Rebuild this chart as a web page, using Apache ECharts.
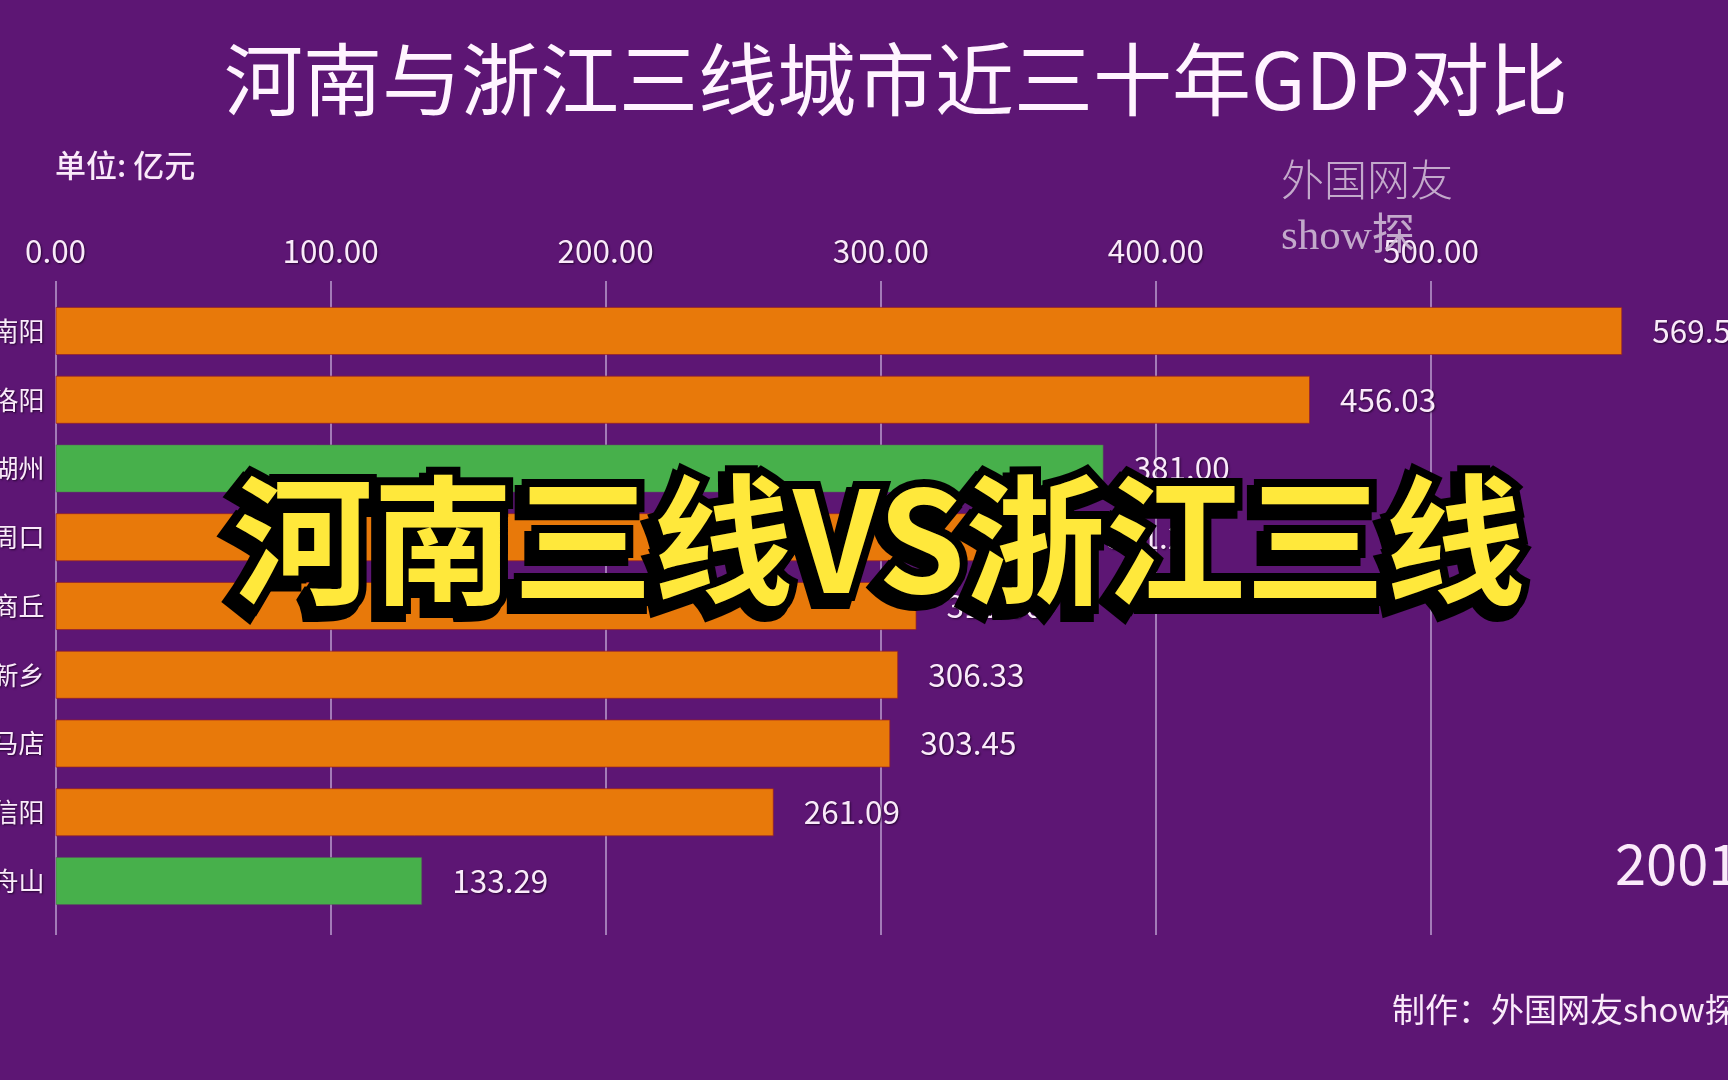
<!DOCTYPE html>
<html>
<head>
<meta charset="utf-8">
<script src="https://cdn.jsdelivr.net/npm/echarts@6/dist/echarts.min.js"></script>
<style>
html,body{margin:0;padding:0;background:#5D1674;}
#main{width:1728px;height:1080px;}
</style>
</head>
<body>
<div id="main"></div>
<script>
// ---- data ----
const cities = ['南阳', '洛阳', '湖州', '周口', '商丘', '新乡', '驻马店', '信阳', '舟山'];
const gdp = [569.52, 456.03, 381.00, 371.20, 313.00, 306.33, 303.45, 261.09, 133.29];
const provinces = ['河南', '河南', '浙江', '河南', '河南', '河南', '河南', '河南', '浙江'];
const xTicks = [0, 100, 200, 300, 400, 500];
const year = '2001';
const titleText = '河南与浙江三线城市近三十年GDP对比';
const unitText = '单位: 亿元';
const footerText = '制作：外国网友show探';
const overlayText = '河南三线VS浙江三线';

// ---- style ----
const colorMap = { '河南': '#E8790A', '浙江': '#47B04B' };
const borderMap = { '河南': 'rgba(150,30,40,0.7)', '浙江': 'rgba(90,90,90,0.5)' };
const txt = '#FAEAFA';
const FF = '"Noto Sans CJK SC", "Noto Sans", sans-serif';
const tShadow = { textShadowColor: 'rgba(30,0,40,0.85)', textShadowBlur: 2, textShadowOffsetX: 1, textShadowOffsetY: 1 };

const maxV = Math.max.apply(null, gdp);
const interval = xTicks[1] - xTicks[0];
const L = 55.5, R = 1728 - (55.5 + maxV * 2.751);

const chart = echarts.init(document.getElementById('main'));
const overlayFont = 'bold 140px ' + FF;

chart.setOption({
  backgroundColor: '#5D1674',
  animation: false,
  grid: [
    { left: L, right: R, top: 296.6, bottom: 164.6, containLabel: false, outerBoundsMode: 'none' },
    { left: L, right: R, top: 281, bottom: 145, containLabel: false, outerBoundsMode: 'none' }
  ],
  xAxis: [
    { type: 'value', gridIndex: 0, min: 0, max: maxV, show: false },
    {
      type: 'value', gridIndex: 1, position: 'top', min: xTicks[0], max: maxV, interval: interval,
      axisLine: { show: false }, axisTick: { show: false },
      axisLabel: {
        showMaxLabel: false, margin: 14, color: txt, fontSize: 31.5, fontFamily: FF,
        formatter: v => v.toFixed(2), ...tShadow
      },
      splitLine: { show: true, showMaxLine: false, lineStyle: { color: '#A37BB8', width: 2 } }
    }
  ],
  yAxis: [
    {
      type: 'category', gridIndex: 0, inverse: true, data: cities,
      axisLine: { show: false }, axisTick: { show: false },
      axisLabel: { color: txt, fontSize: 26, fontFamily: FF, margin: 11, ...tShadow }
    },
    { type: 'value', gridIndex: 1, min: 0, max: 1, show: false }
  ],
  series: [{
    type: 'bar', xAxisIndex: 0, yAxisIndex: 0,
    barCategoryGap: '30%',
    data: gdp.map((v, i) => ({
      value: v,
      itemStyle: { color: colorMap[provinces[i]], borderColor: borderMap[provinces[i]], borderWidth: 1 }
    })),
    label: {
      show: true, position: 'right', distance: 30,
      color: txt, fontSize: 31.5, fontFamily: FF,
      formatter: p => p.value.toFixed(2), ...tShadow
    }
  }],
  graphic: [
    { type: 'text', x: 896, y: 80, z: 10,
      style: { text: titleText, fill: '#FFF4FF', font: '79px ' + FF, align: 'center', verticalAlign: 'middle',
        shadowColor: 'rgba(30,0,40,0.9)', shadowBlur: 3, shadowOffsetX: 2, shadowOffsetY: 2 } },
    { type: 'text', x: 55, y: 165, z: 10,
      style: { text: unitText, fill: txt, font: '500 31px ' + FF, align: 'left', verticalAlign: 'middle',
        shadowColor: 'rgba(30,0,40,0.8)', shadowBlur: 2, shadowOffsetX: 1, shadowOffsetY: 1 } },
    { type: 'text', x: 1281, y: 180, z: 5,
      style: { text: '外国网友', fill: 'rgba(210,190,215,0.88)', font: '300 43px "Noto Sans CJK SC", serif', align: 'left', verticalAlign: 'middle' } },
    { type: 'text', x: 1281, y: 238, z: 5,
      style: { text: 'show探', fill: 'rgba(210,190,215,0.88)', font: '43px "Liberation Serif", "Noto Sans CJK SC", serif', align: 'left', verticalAlign: 'middle' } },
    { type: 'text', x: 1615, y: 864, z: 10,
      style: { text: year, fill: txt, font: '56px ' + FF, align: 'left', verticalAlign: 'middle',
        shadowColor: 'rgba(30,0,40,0.8)', shadowBlur: 2, shadowOffsetX: 1, shadowOffsetY: 1 } },
    { type: 'text', x: 1392, y: 1009, z: 10,
      style: { text: footerText, fill: txt, font: '33px ' + FF, align: 'left', verticalAlign: 'middle',
        shadowColor: 'rgba(30,0,40,0.8)', shadowBlur: 2, shadowOffsetX: 1, shadowOffsetY: 1 } },
    // overlay: shadow layer, stroke layer, fill layer
    { type: 'text', x: 227, y: 547, z: 20,
      style: { text: overlayText, fill: '#000', stroke: '#000', lineWidth: 18, lineJoin: 'round', font: overlayFont, align: 'left', verticalAlign: 'middle' } },
    { type: 'text', x: 233, y: 540, z: 21,
      style: { text: overlayText, fill: '#000', stroke: '#000', lineWidth: 16, lineJoin: 'round', font: overlayFont, align: 'left', verticalAlign: 'middle' } },
    { type: 'text', x: 233, y: 540, z: 22,
      style: { text: overlayText, fill: '#FFE83B', font: overlayFont, align: 'left', verticalAlign: 'middle' } }
  ]
});
</script>
</body>
</html>
